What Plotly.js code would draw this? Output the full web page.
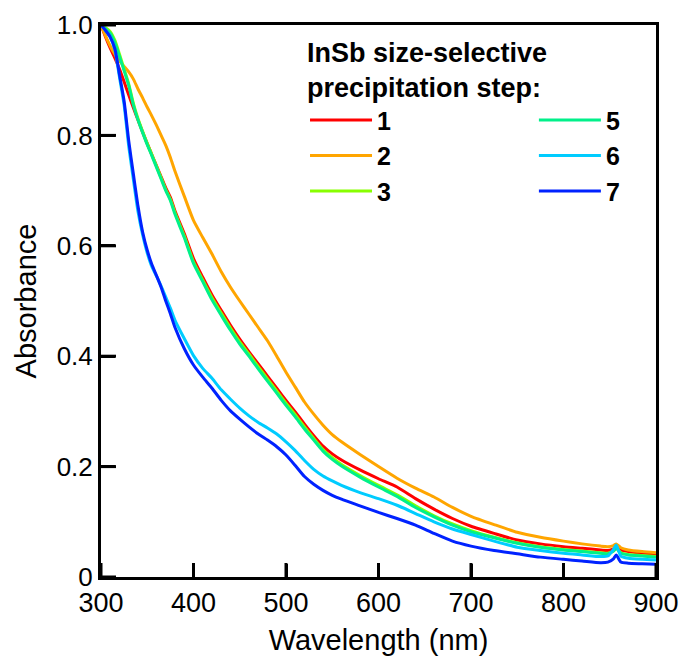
<!DOCTYPE html>
<html>
<head>
<meta charset="utf-8">
<script src="https://cdn.plot.ly/plotly-3.0.1.min.js"></script>
<style>
  html, body { margin: 0; padding: 0; background: #fff; }
  #chart { width: 683px; height: 659px; }
</style>
</head>
<body>
<div id="chart"></div>
<script>
// Wavelength grid (nm)
const wavelength = [300,305,310,315,320,325,330,335,340,345,350,355,360,365,370,375,380,
  390,400,410,420,430,440,450,460,470,480,490,500,510,520,530,540,550,560,
  580,600,620,640,660,680,700,725,750,775,800,820,840,848,854,857,862,870,885,900];

// Absorbance for each size-selective precipitation step
const step1 = [1.0,0.978,0.958,0.94,0.92,0.897,0.873,0.85,0.828,0.806,0.785,0.765,0.745,0.725,0.705,0.688,0.663,
  0.622,0.577,0.543,0.511,0.483,0.456,0.431,0.408,0.386,0.364,0.342,0.32,0.299,0.277,0.256,0.237,0.223,0.212,
  0.194,0.178,0.163,0.142,0.123,0.106,0.092,0.079,0.067,0.06,0.055,0.052,0.049,0.048,0.051,0.055,0.049,0.046,0.043,0.041];
const step2 = [1.0,0.98,0.962,0.947,0.935,0.925,0.915,0.902,0.884,0.868,0.851,0.835,0.818,0.8,0.782,0.76,0.735,
  0.69,0.646,0.615,0.585,0.553,0.525,0.5,0.476,0.452,0.428,0.4,0.371,0.344,0.317,0.295,0.275,0.258,0.245,
  0.222,0.2,0.179,0.161,0.145,0.126,0.11,0.095,0.081,0.072,0.065,0.06,0.056,0.055,0.057,0.06,0.053,0.049,0.046,0.044];
const step3 = [1.0,0.995,0.988,0.972,0.947,0.92,0.893,0.858,0.83,0.807,0.785,0.765,0.744,0.723,0.702,0.684,0.66,
  0.618,0.571,0.538,0.506,0.478,0.451,0.426,0.404,0.381,0.359,0.337,0.315,0.294,0.272,0.251,0.231,0.216,0.204,
  0.184,0.166,0.149,0.129,0.111,0.096,0.084,0.072,0.062,0.055,0.05,0.047,0.044,0.043,0.047,0.052,0.044,0.041,0.039,0.037];
const step5 = [1.0,0.993,0.985,0.968,0.943,0.917,0.89,0.855,0.828,0.805,0.783,0.763,0.742,0.721,0.7,0.682,0.657,
  0.615,0.568,0.535,0.502,0.474,0.447,0.422,0.4,0.377,0.355,0.333,0.311,0.29,0.268,0.248,0.228,0.213,0.201,
  0.181,0.163,0.146,0.126,0.109,0.094,0.082,0.071,0.061,0.054,0.049,0.046,0.043,0.042,0.047,0.052,0.043,0.04,0.038,0.036];
const step6 = [1.0,0.99,0.978,0.955,0.905,0.855,0.78,0.72,0.662,0.62,0.587,0.562,0.545,0.527,0.507,0.487,0.465,
  0.432,0.401,0.378,0.36,0.339,0.322,0.306,0.292,0.28,0.27,0.259,0.245,0.229,0.211,0.195,0.183,0.174,0.166,
  0.153,0.142,0.13,0.115,0.1,0.087,0.077,0.065,0.054,0.048,0.043,0.04,0.037,0.038,0.05,0.058,0.038,0.034,0.032,0.031];
const step7 = [1.0,0.99,0.978,0.957,0.91,0.862,0.79,0.73,0.672,0.625,0.592,0.566,0.546,0.525,0.5,0.477,0.452,
  0.414,0.384,0.362,0.342,0.32,0.301,0.286,0.272,0.259,0.248,0.236,0.221,0.202,0.182,0.168,0.157,0.148,0.141,
  0.129,0.117,0.106,0.094,0.079,0.065,0.056,0.048,0.042,0.036,0.032,0.029,0.026,0.027,0.033,0.04,0.027,0.025,0.024,0.023];

const seriesNames = ["1","2","3","5","6","7"];
const seriesColors = ["#ff0000","#ffa500","#88ff00","#00f08a","#00ccff","#0022ff"];
const seriesLegend = ["legend","legend","legend","legend2","legend2","legend2"];
const seriesValues = [step1, step2, step3, step5, step6, step7];

const xTickVals = [300,400,500,600,700,800,900];
const yTickVals = [0,0.2,0.4,0.6,0.8,1.0];
const yTickText = ["0","0.2","0.4","0.6","0.8","1.0"];

const X_RANGE = [300, 900];
const Y_RANGE = [0, 1.0];
const FONT = "Liberation Sans, Arial, Helvetica, sans-serif";
const MARGIN = { l: 101, r: 27, t: 25, b: 82, pad: 0 };
const PLOT_W = 683 - MARGIN.l - MARGIN.r;
const PLOT_H = 659 - MARGIN.t - MARGIN.b;

const traces = seriesValues.map((vals, i) => ({
  type: "scatter",
  mode: "lines",
  x: wavelength,
  y: vals,
  name: "<b>" + seriesNames[i] + "</b>",
  legend: seriesLegend[i],
  line: { color: seriesColors[i], width: 3, shape: "spline", smoothing: 0.6 }
}));

// Inward tick marks as shapes on the axis scales (lengths in px converted to axis units)
const xTickLen = 14 * (Y_RANGE[1] - Y_RANGE[0]) / PLOT_H;
const yTickLen = 15 * (X_RANGE[1] - X_RANGE[0]) / PLOT_W;
const tickShapes = []
  .concat(xTickVals.map(v => ({
    type: "line", xref: "x", yref: "y", layer: "above",
    x0: v, x1: v, y0: Y_RANGE[0], y1: Y_RANGE[0] + xTickLen,
    line: { color: "black", width: 3 }
  })))
  .concat(yTickVals.map(v => ({
    type: "line", xref: "x", yref: "y", layer: "above",
    x0: X_RANGE[0], x1: X_RANGE[0] + yTickLen, y0: v, y1: v,
    line: { color: "black", width: 3 }
  })));

const legendCommon = {
  orientation: "v",
  xanchor: "left",
  yanchor: "top",
  bgcolor: "rgba(255,255,255,0)",
  borderwidth: 0,
  itemwidth: 62,
  font: { family: FONT, size: 25, color: "#000" }
};

const layout = {
  width: 683,
  height: 659,
  margin: MARGIN,
  showlegend: true,
  font: { family: FONT, color: "#000" },
  xaxis: {
    range: X_RANGE,
    tickvals: xTickVals,
    ticks: "inside",
    ticklen: 13,
    tickwidth: 3,
    tickcolor: "#000",
    showline: true,
    linewidth: 3,
    linecolor: "#000",
    mirror: true,
    showgrid: false,
    zeroline: false,
    tickfont: { family: FONT, size: 27, color: "#000" },
    title: { text: "Wavelength (nm)", font: { family: FONT, size: 29, color: "#000" }, standoff: 13 },
    automargin: false
  },
  yaxis: {
    range: Y_RANGE,
    tickvals: yTickVals,
    ticktext: yTickText,
    ticks: "inside",
    ticklen: 14,
    tickwidth: 3,
    tickcolor: "#000",
    showline: true,
    linewidth: 3,
    linecolor: "#000",
    mirror: true,
    showgrid: false,
    zeroline: false,
    tickfont: { family: FONT, size: 26, color: "#000" },
    title: { text: "Absorbance", font: { family: FONT, size: 29, color: "#000" }, standoff: 12 },
    automargin: false
  },
  shapes: tickShapes,
  legend: Object.assign({}, legendCommon, { x: 0.3676, y: 0.869 }),
  legend2: Object.assign({}, legendCommon, { x: 0.780, y: 0.869 }),
  annotations: [{
    xref: "paper", yref: "paper",
    x: 0.3676, y: 0.98,
    xanchor: "left", yanchor: "top",
    align: "left",
    showarrow: false,
    text: "<b>InSb size-selective<br>precipitation step:</b>",
    font: { family: FONT, size: 27, color: "#000" }
  }]
};

Plotly.newPlot("chart", traces, layout, { displayModeBar: false }).then(function (gd) {
  // redraw the tick shapes once the first render has settled
  return Plotly.relayout(gd, { shapes: tickShapes });
});
</script>
</body>
</html>
